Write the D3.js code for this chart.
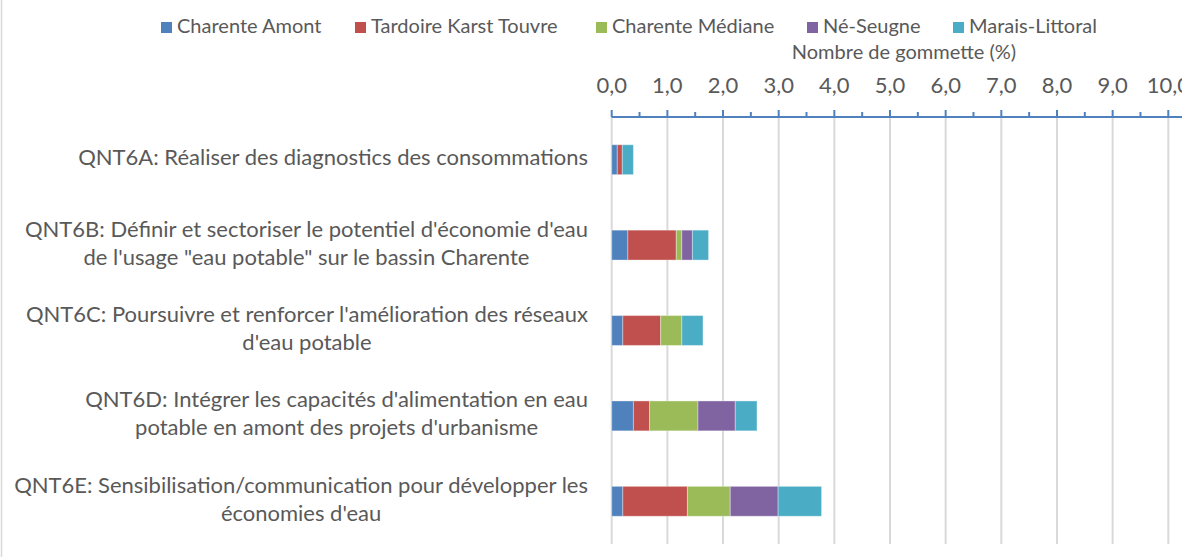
<!DOCTYPE html>
<html>
<head>
<meta charset="utf-8">
<script src="https://cdn.jsdelivr.net/npm/d3@7"></script>
<style>
  html, body { margin: 0; padding: 0; background: #fff; }
  #chart { width: 1182px; height: 557px; overflow: hidden; }
  text { font-family: Lato, "Open Sans", sans-serif; fill: #595959; }
</style>
</head>
<body>
<div id="chart"></div>
<script>
// --- Data ---
const categories = [
  ["QNT6A: Réaliser des diagnostics des consommations"],
  ["QNT6B: Définir et sectoriser le potentiel d'économie d'eau", "de l'usage \"eau potable\" sur le bassin Charente"],
  ["QNT6C: Poursuivre et renforcer l'amélioration des réseaux", "d'eau potable"],
  ["QNT6D: Intégrer les capacités d'alimentation en eau", "potable en amont des projets d'urbanisme"],
  ["QNT6E: Sensibilisation/communication pour développer les", "économies d'eau"]
];
const seriesNames = ["Charente Amont", "Tardoire Karst Touvre", "Charente Médiane", "Né-Seugne", "Marais-Littoral"];
const charenteAmont = [0.10, 0.29, 0.20, 0.39, 0.20];
const tardoireKarstTouvre = [0.09, 0.87, 0.68, 0.29, 1.16];
const charenteMediane = [0.00, 0.10, 0.38, 0.87, 0.77];
const neSeugne = [0.00, 0.19, 0.00, 0.67, 0.86];
const maraisLittoral = [0.20, 0.29, 0.38, 0.39, 0.78];
const tickValues = [0, 1, 2, 3, 4, 5, 6, 7, 8, 9, 10];
const axisTitle = "Nombre de gommette (%)";

const colors = ["#4F81BD", "#C0504D", "#9BBB59", "#8064A2", "#4BACC6"];
const seriesValues = [charenteAmont, tardoireKarstTouvre, charenteMediane, neSeugne, maraisLittoral];

const W = 1182, H = 557;
const svg = d3.select("#chart").append("svg").attr("width", W).attr("height", H);

// Frame left edge
svg.append("line").attr("x1", 1.5).attr("x2", 1.5).attr("y1", 0).attr("y2", H)
  .attr("stroke", "#d9d9d9").attr("stroke-width", 1.5);

// Fit the font size so labels match the reference width
const probe = svg.append("text").style("font-size", "20px").text(categories[0][0]);
const fs = 20 * 510 / probe.node().getComputedTextLength();
probe.remove();
const fsSmall = fs * 0.91;

// Scales
const x = d3.scaleLinear().domain([0, 10]).range([611.7, 1168.3]);
const rows = categories.map((c, i) => ({ id: i, label: c }));
const y = d3.scaleBand().domain(rows.map(d => d.id)).range([117, 544])
  .paddingInner(0.65).paddingOuter(0.325);

// Gridlines
svg.append("g").selectAll("line").data(tickValues).join("line")
  .attr("x1", d => x(d)).attr("x2", d => x(d))
  .attr("y1", 117).attr("y2", 544)
  .attr("stroke", "#d9d9d9").attr("stroke-width", 2);

// Stacked bars
const table = rows.map((r, i) => {
  const o = { id: r.id };
  seriesNames.forEach((s, j) => { o[s] = seriesValues[j][i]; });
  return o;
});
const stacked = d3.stack().keys(seriesNames)(table);
svg.append("g").selectAll("g").data(stacked).join("g")
  .attr("fill", (d, i) => colors[i])
  .selectAll("rect").data(d => d).join("rect")
  .attr("x", d => x(d[0]))
  .attr("width", d => Math.max(0, x(d[1]) - x(d[0])))
  .attr("y", d => y(d.data.id))
  .attr("height", y.bandwidth())
  .attr("stroke", "rgba(255,255,255,0.35)")
  .attr("stroke-width", d => (d[1] - d[0]) > 0 ? 1 : 0);

// Top axis
const axisY = 117;
svg.append("line").attr("x1", x(0)).attr("x2", W).attr("y1", axisY).attr("y2", axisY)
  .attr("stroke", "#4F81BD").attr("stroke-width", 2);
const minor = d3.range(0.5, 10.6, 1);
svg.append("g").selectAll("line").data(minor).join("line")
  .attr("x1", d => x(d)).attr("x2", d => x(d))
  .attr("y1", axisY).attr("y2", axisY - 5)
  .attr("stroke", "#4F81BD").attr("stroke-width", 2);
svg.append("g").selectAll("line").data(tickValues).join("line")
  .attr("x1", d => x(d)).attr("x2", d => x(d))
  .attr("y1", axisY).attr("y2", axisY - 7)
  .attr("stroke", "#4F81BD").attr("stroke-width", 2);
svg.append("g").selectAll("text").data(tickValues).join("text")
  .attr("x", d => x(d)).attr("y", 87)
  .attr("text-anchor", "middle").attr("dominant-baseline", "middle")
  .style("font-size", fs + "px")
  .text(d => d.toFixed(1).replace(".", ","));

// Axis title
svg.append("text").attr("x", 904).attr("y", 54)
  .attr("text-anchor", "middle").attr("dominant-baseline", "middle")
  .style("font-size", fsSmall + "px").text(axisTitle);

// Category labels (block right-aligned, lines centered)
const labelRight = 588;
const lineH = 28;
rows.forEach(r => {
  const g = svg.append("g");
  const cy = y(r.id) + y.bandwidth() / 2;
  const t = g.selectAll("text").data(r.label).join("text")
    .style("font-size", fs + "px")
    .attr("text-anchor", "middle").attr("dominant-baseline", "middle")
    .attr("y", (d, i) => cy + (i - (r.label.length - 1) / 2) * lineH)
    .text(d => d);
  let maxW = 0;
  t.each(function () { maxW = Math.max(maxW, this.getComputedTextLength()); });
  t.attr("x", labelRight - maxW / 2);
});

// Legend
const legendY = 27.5;
const legendX = [161, 355, 596, 807, 953];
const lg = svg.append("g").selectAll("g").data(seriesNames).join("g")
  .attr("transform", (d, i) => `translate(${legendX[i]},${legendY})`);
lg.append("rect").attr("x", 0).attr("y", -5.5).attr("width", 11).attr("height", 11)
  .attr("fill", (d, i) => colors[i]);
lg.append("text").attr("x", 16).attr("y", 0).attr("dominant-baseline", "middle")
  .style("font-size", fsSmall + "px").text(d => d);
</script>
</body>
</html>
